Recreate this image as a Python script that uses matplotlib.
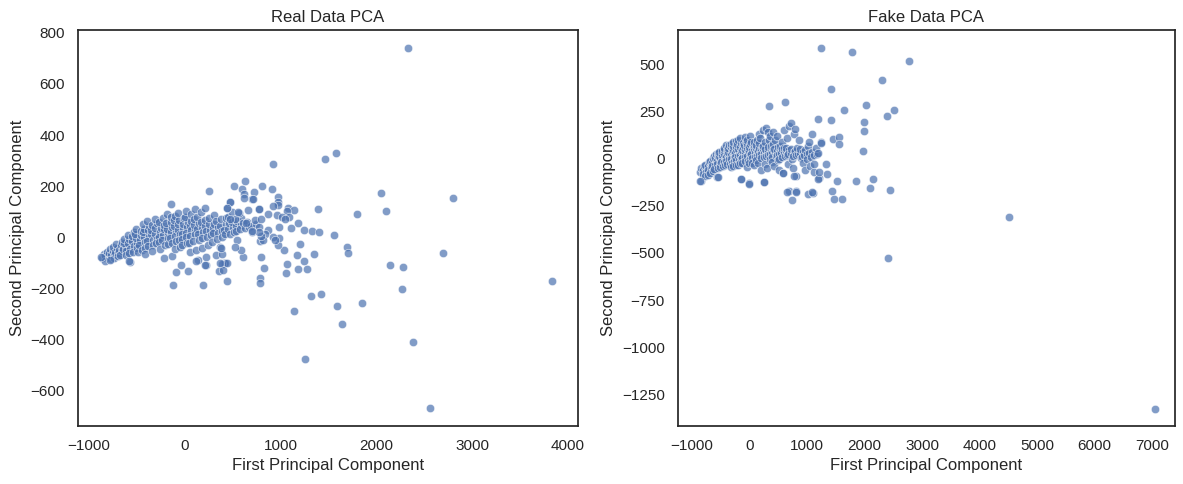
import matplotlib
matplotlib.use("Agg")
import matplotlib.pyplot as plt
import seaborn as sns
import pandas as pd

sns.set_theme(style="white")
plt.rcParams["font.family"] = ["Liberation Sans", "DejaVu Sans"]

# ---------------- Real data: dense core (one line per column of the cluster) ----------------
real_core_x = [
    -862, -845,
    -826, -811, -832,
    -789, -772, -781, -768,
    -747, -733, -752, -738, -726,
    -705, -692, -713, -699, -688,
    -668, -651, -657, -672, -646,
    -611, -628, -616, -633, -607,
    -587, -571, -584, -576, -593, -566,
    -546, -531, -552, -538, -527,
    -492, -509, -496, -513, -488, -505,
    -466, -452, -471, -457, -448,
    -427, -414, -431, -409, -423, -416, -436,
    -372, -389, -377, -385, -368, -394,
    -347, -333, -351, -328, -344, -337,
    -306, -291, -312, -297, -286, -309,
    -254, -268, -251, -272, -263, -257,
    -227, -213, -231, -218, -209, -224, -215,
    -173, -188, -176, -191, -169, -184,
    -146, -132, -151, -137, -128, -143, -139, -134,
    -93, -108, -97, -112, -89, -104, -95,
    -66, -52, -71, -57, -63, -48, -68,
    -13, -28, -17, -31, -9, -24,
    26, 12, 31, 17, 8, 23, 14,
    53, 68, 57, 72, 49, 64, 58,
    107, 93, 111, 97, 88, 104, 116,
    133, 148, 137, 152, 129, 144,
    186, 172, 191, 177, 168, 183,
    213, 228, 217, 232, 209, 224,
    267, 253, 271, 257, 248,
    293, 308, 297, 312, 289,
    346, 332, 351, 337, 328,
    373, 388, 377, 392, 369,
    427, 413, 431, 417, 408,
    453, 468, 457, 472,
    507, 493, 511, 497,
    533, 548, 537, 552,
    587, 573, 591,
    613, 628,
    667, 653,
    693, 708,
    747, 733,
    773, 788,
]
real_core_y = [
    -80, -66,
    -74, -57, -91,
    -61, -84, -47, -71,
    -52, -68, -36, -81, -59,
    -42, -61, -27, -73, -49,
    -31, -54, -17, -69, -44,
    -36, -22, -53, -6, -71,
    -24, -46, -7, -62, 9, -95,
    -16, -33, 4, -56, 19,
    -21, -2, -41, 14, -59, 31,
    -11, 8, -29, 26, -48,
    1, -19, 22, -41, 34, -66, 53,
    4, -16, 27, -33, 46, 64,
    11, -9, 29, -31, 48, -54,
    13, -6, 36, -24, 57, 71,
    21, 2, 38, -18, 61, -44,
    9, 31, -12, 49, -29, 76, -81,
    16, 33, -4, 56, -26, 91,
    19, 41, -2, 58, -21, 79, 131, -74,
    26, 43, 6, 66, -14, -46, 84,
    28, 11, 52, -9, 69, -39, 96,
    36, 14, 53, -6, 74, -31,
    41, 18, 61, 2, 79, -24, 101,
    44, 27, 4, 63, -21, 92, -59,
    31, 48, 12, 71, -16, 109, -51,
    34, 56, 13, -11, 81, -89,
    42, 58, 21, -4, 99, -41,
    43, 26, 66, 1, 114, -79,
    29, 52, 9, 76, -31,
    36, 53, 16, 89, -19,
    41, 62, 18, -6, -71,
    44, 24, 71, 2, -39,
    51, 29, 74, 11, -101,
    33, 56, 79, 14,
    41, 59, 21, 99,
    46, 64, 23, -9,
    49, 31, 76,
    54, 36,
    41, 61,
    44, 19,
    51, 69,
    39, -16,
]
# Real data: sparse points read individually
real_sparse_x = [1580, 1466, 926, 258, 519, 627, 596, 624, 728, 808, 916, 704, 477, 443,
                 975, 975, 975, 665, 780, 923, 1076, 1142, 1072, 1396, 867, 968, 1017,
                 1093, 1045, 1180, 801, 638, 565, 523, 471, 985, 1107, 1246, 1333, 1406,
                 1563, 1698, 1709, 1803, 1208, 1354, 1170, 1250, 1072, 1184, 1281, 1062,
                 1041, 975, 989, 923, 940, 874, 836, 822, 794, 780, 707, 832, 790, 790,
                 1323, 1427, 1591, 1142, 801, 606, 592, 523, 443, 422, 394, 362, 390,
                 377, 195, -118, 39, -87, 227, 119, -41, -577, -870, -782,
                 2053, 2802, 2106, 2697, 2147, 2283, 2272, 3838, 1855, 1646, 2387,
                 1260, 2565, 2332, 474, 446, 561, 711, 623, 777, 213, 404, 440, 370]
real_sparse_y = [328, 305, 286, 181, 201, 219, 190, 168, 176, 200, 188, 149, 138, 116,
                 157, 139, 125, 106, 110, 121, 116, 107, 103, 111, 91, 88, 78,
                 81, 70, 57, 70, 57, 94, 70, 73, 40, 36, 29, 25, 20,
                 8, -37, -63, 91, -27, -67, -70, -93, -106, -124, -124, -141,
                 -51, -31, -4, 2, -11, 30, 12, -11, 6, 22, 23, -121, -158, -180,
                 -230, -222, -268, -290, -78, -76, -50, -37, -172, -102, -104, -133, -65,
                 -43, -188, -188, -132, -137, -108, -93, -107, -93, -76, -89,
                 172, 153, 102, -63, -110, -117, -204, -172, -258, -340, -411,
                 -478, -669, 741, 139, 116, 100, 150, 155, 111, -108, -128, -102, -102]

# ---------------- Fake data: dense core ----------------
fake_core_x = [
    -858, -843, -851,
    -807, -792, -811,
    -753, -768, -757, -772,
    -727, -712, -731, -716,
    -673, -688, -677, -692,
    -647, -632, -651, -636, -628,
    -593, -608, -597, -612, -589,
    -567, -552, -571, -556, -548, -563,
    -513, -528, -517, -532, -509,
    -487, -472, -491, -476, -468,
    -433, -448, -437, -452, -429, -444,
    -407, -392, -411, -396, -388, -403,
    -353, -368, -357, -372, -349, -364,
    -327, -312, -331, -316, -308, -323, -319,
    -273, -288, -277, -292, -269, -284, -281,
    -247, -232, -251, -236, -228, -243, -239,
    -193, -208, -197, -212, -189, -204, -201,
    -167, -152, -171, -156, -148, -163, -159, -150,
    -113, -128, -117, -132, -109, -124,
    -87, -72, -91, -76, -68, -83, -79,
    -33, -48, -37, -52, -29, -44, -41,
    -7, 8, -11, 4, 12, -3, 1, -5,
    47, 32, 51, 36, 28, 43,
    73, 88, 77, 92, 69, 84,
    127, 112, 131, 116, 108, 123,
    153, 168, 157, 172, 149, 164,
    207, 192, 211, 196, 188, 203,
    233, 248, 237, 252, 229, 244,
    287, 272, 291, 276, 268, 283,
    313, 328, 317, 332, 309, 324,
    367, 352, 371, 356, 348,
    393, 408, 397, 412, 389, 404,
    447, 432, 451, 436, 428,
    473, 488, 477, 492, 469,
    527, 512, 531, 516, 508,
    553, 568, 557, 572,
    607, 592, 611, 596, 588,
    633, 648, 637, 652,
    687, 672, 691, 676,
    713, 728, 717, 732,
    767, 752, 771, 756,
    793, 808, 797, 812,
    847, 832, 851,
    873, 888, 877,
    927, 912, 931,
    953, 968, 957,
    1007, 992, 1011,
    1033, 1048, 1037,
    1087, 1072, 1091,
    1113, 1128,
    1167, 1152,
    1193, 1208,
]
fake_core_y = [
    -71, -52, -121,
    -61, -38, -82,
    -49, -31, -72, -94,
    -41, -18, -61, -86,
    -29, -11, -52, -74,
    -22, 2, -39, -66, 16,
    -14, 4, -36, -57, 24,
    -11, 12, -29, -51, 31, -97,
    -4, 14, -26, 36, -44,
    1, 21, -19, 39, -41,
    6, 24, -16, 47, -34, 59,
    9, 31, -11, 49, -29, 71,
    16, 34, -4, 56, -26, 74,
    19, 42, 1, 61, -21, 79, -46,
    26, 44, 4, 66, -14, 89, -39,
    29, 51, 11, 69, -9, 96, -36,
    36, 54, 14, 76, -6, 99, -31,
    21, 39, 61, -1, 81, -24, 111, -108,
    24, 46, 64, 6, 84, -21,
    31, 49, 71, 9, 91, -14, 114,
    34, 56, 14, 76, -11, 101, -46,
    41, 19, 61, 1, 79, -21, 119, -130,
    44, 26, 66, 4, 86, -24,
    51, 29, 71, 11, 89, -36,
    34, 56, 16, 74, -9, 101,
    41, 59, 19, 81, -21, 129,
    46, 24, 64, 6, 109, -61,
    49, 31, 69, 9, 151, -125,
    36, 54, 14, 91, -29, 161,
    39, 61, 21, 99, -51, 144,
    46, 24, 66, 1, 119,
    29, 51, 11, 79, -19, 141,
    36, 54, 16, 101, -41,
    39, 61, 19, -9, 121,
    44, 26, 69, 1, -61,
    31, 49, 9, 91,
    34, 56, 14, 151, -76,
    41, 19, 59, 109,
    44, 26, 171, -29,
    31, 49, 189, 1,
    34, 16, 131, -51,
    39, 21, 159, -91,
    26, 59, 101,
    29, 6, 51,
    36, 9, -21,
    21, 44, -59,
    24, 1, 69,
    31, -41, 89,
    34, 11, 129,
    19, -71,
    26, 59,
    29, -101,
]
fake_sparse_x = [1234, 1782, 2774, 2307, 1424, 2030, 2514, 2388, 1649, 1997, 1997, 1978,
                 1424, 1182, 611, 334, 1448, 1563, 1563, 1246, 1528, 1857, 2151, 2099,
                 2445, 1441, 1476, 1614, 692, 801, 732, 1021, 1107, -859, -548, -150,
                 -12, 242, 1326, 1338, 1182, 1199, 577, 767, 1113, 7060, 4516, 2400,
                 657, 801, 1090, 1246]
fake_sparse_y = [586, 565, 517, 416, 368, 283, 257, 225, 257, 195, 147, 39,
                 205, 209, 299, 278, 103, 115, 76, 89, -120, -120, -109, -157,
                 -168, -173, -216, -216, -173, -173, -221, -187, -180, -120, -97, -108,
                 -134, -126, -30, -81, -109, -69, -78, -90, -30, -1330, -309, -525,
                 -175, -175, -175, 85]

real_df = pd.DataFrame({"x": real_core_x + real_sparse_x, "y": real_core_y + real_sparse_y})
fake_df = pd.DataFrame({"x": fake_core_x + fake_sparse_x, "y": fake_core_y + fake_sparse_y})

fig = plt.figure(figsize=(11.83, 4.84), dpi=100)
ax1 = fig.add_axes([0.0659, 0.1205, 0.4227, 0.8175])
ax2 = fig.add_axes([0.5731, 0.1205, 0.4201, 0.8175])

sns.scatterplot(data=real_df, x="x", y="y", alpha=0.7, ax=ax1)
sns.scatterplot(data=fake_df, x="x", y="y", alpha=0.7, ax=ax2)

ax1.set_title("Real Data PCA")
ax2.set_title("Fake Data PCA")
for ax in (ax1, ax2):
    ax.set_xlabel("First Principal Component")
    ax.set_ylabel("Second Principal Component")

ax1.set_xlim(-1113, 4106)
ax1.set_ylim(-737, 811)
ax1.set_xticks([-1000, 0, 1000, 2000, 3000, 4000])
ax1.set_yticks([-600, -400, -200, 0, 200, 400, 600, 800])
ax2.set_xlim(-1246, 7400)
ax2.set_ylim(-1417, 683)
ax2.set_xticks([-1000, 0, 1000, 2000, 3000, 4000, 5000, 6000, 7000])
ax2.set_yticks([-1250, -1000, -750, -500, -250, 0, 250, 500])

fig.savefig("out.png", dpi=100)
